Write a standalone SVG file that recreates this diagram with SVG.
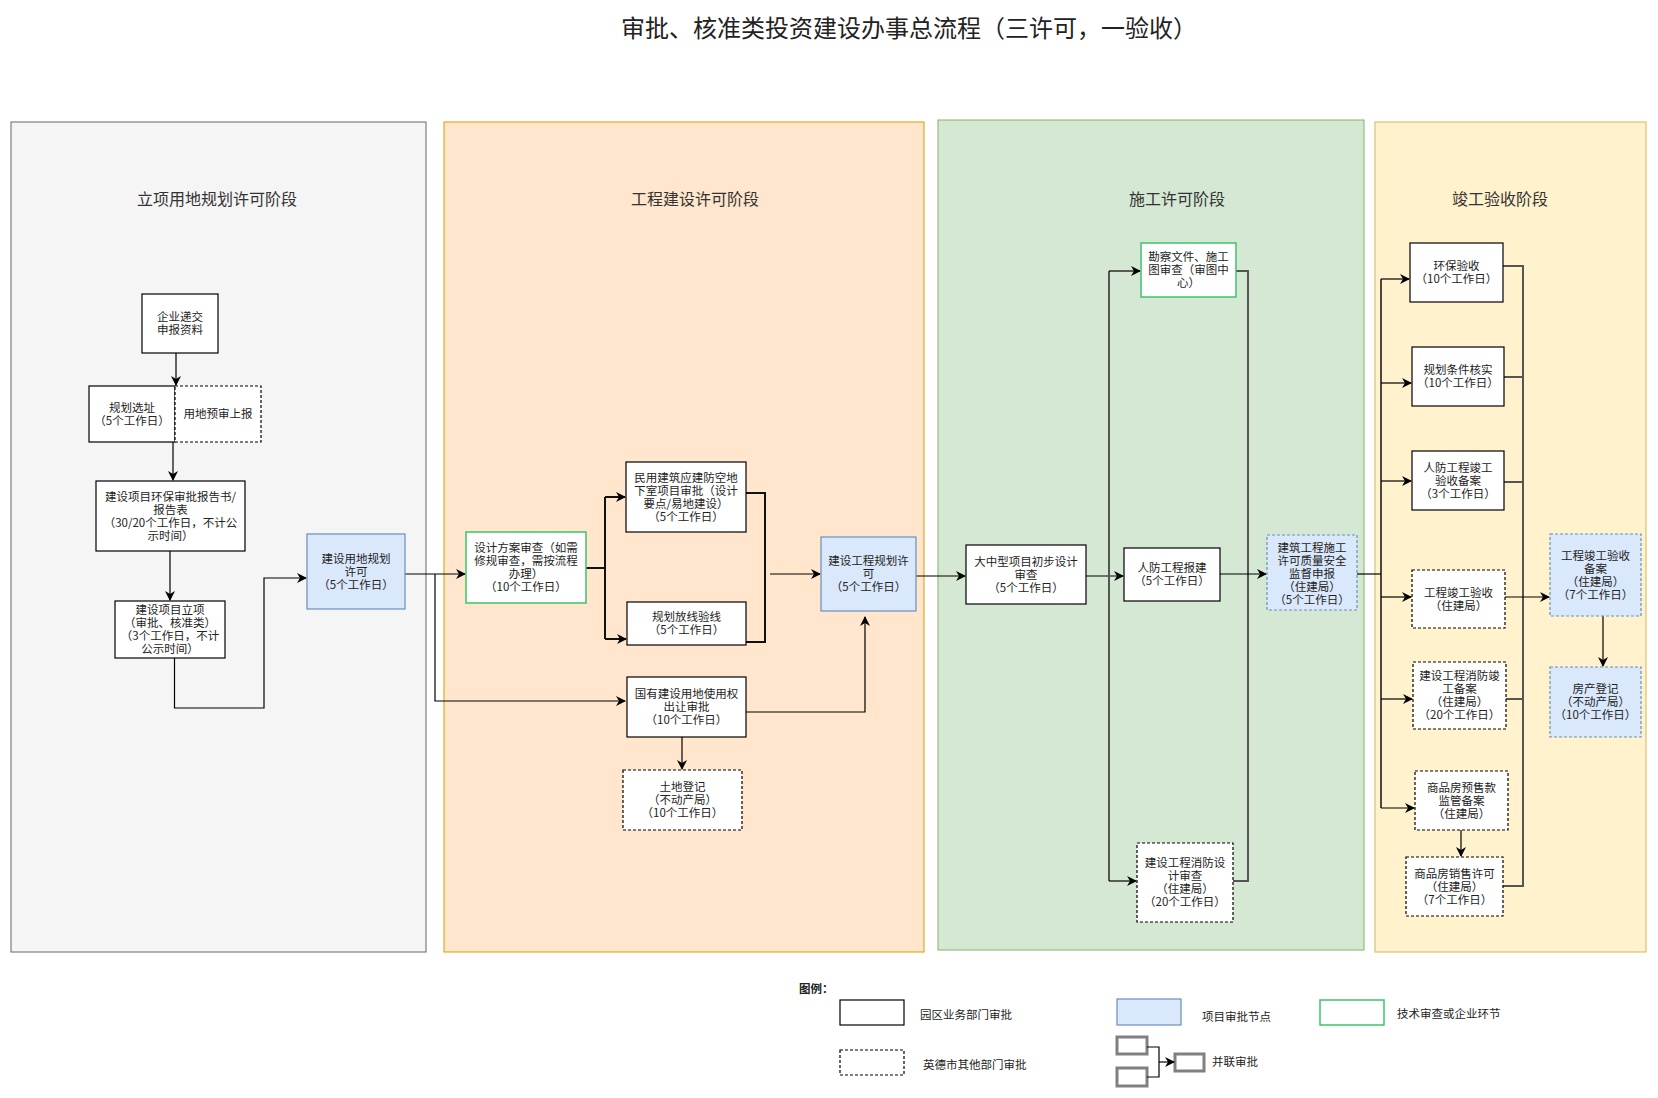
<svg xmlns="http://www.w3.org/2000/svg" width="1658" height="1098" viewBox="0 0 1658 1098">
<defs>
<marker id="a" markerWidth="10" markerHeight="10" refX="9" refY="5" orient="auto" markerUnits="userSpaceOnUse"><path d="M0,0 L10,5 L0,10 L3,5 Z" fill="#000"/></marker>
<style>
text{font-family:"Noto Sans CJK SC","Liberation Sans",sans-serif;fill:#222;}
.t{font-size:11.5px;text-anchor:middle;}
.st{font-size:16px;text-anchor:middle;fill:#333;}
.lg{font-size:11.5px;}
.n{fill:#fff;stroke:#000;stroke-width:1.2;}
.d{fill:#fff;stroke:#000;stroke-width:1.2;stroke-dasharray:3,2;}
.g{fill:#fff;stroke:#3cc36b;stroke-width:1.5;}
.b{fill:#dae8fc;stroke:#6c8ebf;stroke-width:1.2;}
.bd{fill:#dae8fc;stroke:#6c8ebf;stroke-width:1.2;stroke-dasharray:3,2;}
.c{fill:none;stroke:#000;stroke-width:1.2;}
.c2{fill:none;stroke:#111;stroke-width:2;}
.c3{fill:none;stroke:#555;stroke-width:2;}
</style>
</defs>
<rect width="1658" height="1098" fill="#fff"/>
<text x="909" y="37" style="font-size:24px;text-anchor:middle;fill:#222">审批、核准类投资建设办事总流程（三许可，一验收）</text>
<g id="stages">
<rect x="11" y="122" width="415" height="830" fill="#f5f5f5" stroke="#666"/>
<rect x="444" y="122" width="480" height="830" fill="#ffe6cc" stroke="#d79b00"/>
<rect x="938" y="120" width="426" height="830" fill="#d5e8d4" stroke="#82b366"/>
<rect x="1375" y="122" width="271" height="830" fill="#fff2cc" stroke="#d6b656"/>
<text class="st" x="217" y="205">立项用地规划许可阶段</text>
<text class="st" x="695" y="205">工程建设许可阶段</text>
<text class="st" x="1177" y="205">施工许可阶段</text>
<text class="st" x="1500" y="205">竣工验收阶段</text>
</g>
<g id="connectors">
<path class="c" d="M176,353 V385" marker-end="url(#a)"/>
<path class="c" d="M173,442 V480" marker-end="url(#a)"/>
<path class="c" d="M170,551 V600" marker-end="url(#a)"/>
<path class="c" d="M174.5,658 V708 H264 V578 H306" marker-end="url(#a)"/>
<path class="c" d="M405,574 H465" marker-end="url(#a)"/>
<path class="c" d="M435,574 V701 H625" marker-end="url(#a)"/>
<path class="c2" d="M586,568 H605 M605,497 V639" />
<path class="c2" d="M605,497 H625" marker-end="url(#a)"/>
<path class="c2" d="M605,639 H626" marker-end="url(#a)"/>
<path class="c2" d="M746,493 H765 V642 H746"/>
<path class="c" d="M770,574 H820" marker-end="url(#a)"/>
<path class="c" d="M746,712 H865 V617" marker-end="url(#a)"/>
<path class="c" d="M682,737 V769" marker-end="url(#a)"/>
<path class="c" d="M916,576 H965" marker-end="url(#a)"/>
<path class="c" d="M1086,576 H1123" marker-end="url(#a)"/>
<path class="c3" d="M1109,271 V881"/>
<path class="c" d="M1109,271 H1140" marker-end="url(#a)"/>
<path class="c" d="M1109,881 H1136" marker-end="url(#a)"/>
<path class="c3" d="M1236,271 H1248 V881 H1233"/>
<path class="c" d="M1220,574 H1266" marker-end="url(#a)"/>
<path class="c" d="M1357,574 H1381"/>
<path class="c3" d="M1381,279 V808" style="stroke:#111;stroke-width:1.5"/>
<path class="c" d="M1381,279 H1409" marker-end="url(#a)"/>
<path class="c" d="M1381,383 H1411" marker-end="url(#a)"/>
<path class="c" d="M1381,481 H1411" marker-end="url(#a)"/>
<path class="c" d="M1381,597 H1411" marker-end="url(#a)"/>
<path class="c" d="M1381,699 H1412" marker-end="url(#a)"/>
<path class="c" d="M1381,808 H1414" marker-end="url(#a)"/>
<path class="c3" d="M1503,266 H1523 V886 H1503 M1504,377 H1523 M1504,482 H1523 M1506,699 H1523"/>
<path class="c" d="M1505,597 H1549" marker-end="url(#a)"/>
<path class="c" d="M1603,616 V666" marker-end="url(#a)"/>
<path class="c" d="M1461,830 V856" marker-end="url(#a)"/>
</g>
<g id="n1"><rect class="n" x="142" y="294" width="76" height="59"/><text class="t" x="180"><tspan x="180" y="321">企业递交</tspan><tspan x="180" y="334">申报资料</tspan></text></g>
<g id="n2"><rect class="n" x="89" y="386" width="86" height="56"/><text class="t"><tspan x="132" y="411.5">规划选址</tspan><tspan x="132" y="424.5">（5个工作日）</tspan></text></g>
<g id="n3"><rect class="d" x="175" y="386" width="86" height="56"/><text class="t" x="218" y="418">用地预审上报</text></g>
<g id="n4"><rect class="n" x="96" y="481" width="149" height="70"/><text class="t"><tspan x="170.5" y="500.5">建设项目环保审批报告书/</tspan><tspan x="170.5" y="513.5">报告表</tspan><tspan x="170.5" y="526.5">（30/20个工作日，不计公</tspan><tspan x="170.5" y="539.5">示时间）</tspan></text></g>
<g id="n5"><rect class="n" x="115" y="601" width="110" height="57"/><text class="t"><tspan x="170" y="614">建设项目立项</tspan><tspan x="170" y="627">（审批、核准类）</tspan><tspan x="170" y="640">（3个工作日，不计</tspan><tspan x="170" y="653">公示时间）</tspan></text></g>
<g id="n6"><rect class="b" x="307" y="534" width="98" height="75"/><text class="t"><tspan x="356" y="562.5">建设用地规划</tspan><tspan x="356" y="575.5">许可</tspan><tspan x="356" y="588.5">（5个工作日）</tspan></text></g>
<g id="n7"><rect class="g" x="466" y="532" width="120" height="71"/><text class="t"><tspan x="526" y="552">设计方案审查（如需</tspan><tspan x="526" y="565">修规审查，需按流程</tspan><tspan x="526" y="578">办理）</tspan><tspan x="526" y="591">（10个工作日）</tspan></text></g>
<g id="n8"><rect class="n" x="626" y="462" width="120" height="70"/><text class="t"><tspan x="686" y="481.5">民用建筑应建防空地</tspan><tspan x="686" y="494.5">下室项目审批（设计</tspan><tspan x="686" y="507.5">要点/易地建设）</tspan><tspan x="686" y="520.5">（5个工作日）</tspan></text></g>
<g id="n9"><rect class="n" x="627" y="602" width="119" height="43"/><text class="t"><tspan x="686.5" y="621">规划放线验线</tspan><tspan x="686.5" y="634">（5个工作日）</tspan></text></g>
<g id="n10"><rect class="n" x="627" y="677" width="119" height="60"/><text class="t"><tspan x="686.5" y="698">国有建设用地使用权</tspan><tspan x="686.5" y="711">出让审批</tspan><tspan x="686.5" y="724">（10个工作日）</tspan></text></g>
<g id="n11"><rect class="d" x="623" y="770" width="119" height="60"/><text class="t"><tspan x="682.5" y="791">土地登记</tspan><tspan x="682.5" y="804">（不动产局）</tspan><tspan x="682.5" y="817">（10个工作日）</tspan></text></g>
<g id="n12"><rect class="b" x="821" y="537" width="95" height="74"/><text class="t"><tspan x="868.5" y="565">建设工程规划许</tspan><tspan x="868.5" y="578">可</tspan><tspan x="868.5" y="591">（5个工作日）</tspan></text></g>
<g id="n13"><rect class="g" x="1141" y="243" width="95" height="54"/><text class="t"><tspan x="1188.5" y="261">勘察文件、施工</tspan><tspan x="1188.5" y="274">图审查（审图中</tspan><tspan x="1188.5" y="287">心）</tspan></text></g>
<g id="n14"><rect class="n" x="966" y="545" width="120" height="59"/><text class="t"><tspan x="1026" y="565.5">大中型项目初步设计</tspan><tspan x="1026" y="578.5">审查</tspan><tspan x="1026" y="591.5">（5个工作日）</tspan></text></g>
<g id="n15"><rect class="n" x="1124" y="548" width="96" height="53"/><text class="t"><tspan x="1172" y="572">人防工程报建</tspan><tspan x="1172" y="585">（5个工作日）</tspan></text></g>
<g id="n16"><rect class="d" x="1137" y="843" width="96" height="79"/><text class="t"><tspan x="1185" y="867">建设工程消防设</tspan><tspan x="1185" y="880">计审查</tspan><tspan x="1185" y="893">（住建局）</tspan><tspan x="1185" y="906">（20个工作日）</tspan></text></g>
<g id="n17"><rect class="bd" x="1267" y="535" width="90" height="75"/><text class="t"><tspan x="1312" y="552">建筑工程施工</tspan><tspan x="1312" y="565">许可质量安全</tspan><tspan x="1312" y="578">监督申报</tspan><tspan x="1312" y="591">（住建局）</tspan><tspan x="1312" y="604">（5个工作日）</tspan></text></g>
<g id="n18"><rect class="n" x="1410" y="243" width="93" height="59"/><text class="t"><tspan x="1456.5" y="270">环保验收</tspan><tspan x="1456.5" y="283">（10个工作日）</tspan></text></g>
<g id="n19"><rect class="n" x="1412" y="347" width="92" height="59"/><text class="t"><tspan x="1458" y="374">规划条件核实</tspan><tspan x="1458" y="387">（10个工作日）</tspan></text></g>
<g id="n20"><rect class="n" x="1412" y="451" width="92" height="59"/><text class="t"><tspan x="1458" y="471.5">人防工程竣工</tspan><tspan x="1458" y="484.5">验收备案</tspan><tspan x="1458" y="497.5">（3个工作日）</tspan></text></g>
<g id="n21"><rect class="d" x="1412" y="570" width="93" height="58"/><text class="t"><tspan x="1458.5" y="596.5">工程竣工验收</tspan><tspan x="1458.5" y="609.5">（住建局）</tspan></text></g>
<g id="n22"><rect class="d" x="1413" y="662" width="93" height="67"/><text class="t"><tspan x="1459.5" y="680">建设工程消防竣</tspan><tspan x="1459.5" y="693">工备案</tspan><tspan x="1459.5" y="706">（住建局）</tspan><tspan x="1459.5" y="719">（20个工作日）</tspan></text></g>
<g id="n23"><rect class="d" x="1415" y="771" width="93" height="59"/><text class="t"><tspan x="1461.5" y="791.5">商品房预售款</tspan><tspan x="1461.5" y="804.5">监管备案</tspan><tspan x="1461.5" y="817.5">（住建局）</tspan></text></g>
<g id="n24"><rect class="d" x="1406" y="857" width="97" height="59"/><text class="t"><tspan x="1454.5" y="877.5">商品房销售许可</tspan><tspan x="1454.5" y="890.5">（住建局）</tspan><tspan x="1454.5" y="903.5">（7个工作日）</tspan></text></g>
<g id="n25"><rect class="bd" x="1550" y="534" width="91" height="82"/><text class="t"><tspan x="1595.5" y="559.5">工程竣工验收</tspan><tspan x="1595.5" y="572.5">备案</tspan><tspan x="1595.5" y="585.5">（住建局）</tspan><tspan x="1595.5" y="598.5">（7个工作日）</tspan></text></g>
<g id="n26"><rect class="bd" x="1550" y="667" width="91" height="70"/><text class="t"><tspan x="1595.5" y="693">房产登记</tspan><tspan x="1595.5" y="706">（不动产局）</tspan><tspan x="1595.5" y="719">（10个工作日）</tspan></text></g>
<g id="legend">
<text class="lg" x="799" y="993" style="font-weight:bold">图例：</text>
<rect class="n" x="840" y="1000" width="64" height="25"/>
<text class="lg" x="920" y="1019">园区业务部门审批</text>
<rect class="d" x="840" y="1050" width="64" height="25"/>
<text class="lg" x="923" y="1069">英德市其他部门审批</text>
<rect class="b" x="1117" y="999" width="64" height="26"/>
<text class="lg" x="1202" y="1021">项目审批节点</text>
<rect class="g" x="1320" y="1000" width="64" height="25"/>
<text class="lg" x="1397" y="1018">技术审查或企业环节</text>
<rect x="1117" y="1037" width="30" height="17" fill="#fff" stroke="#808080" stroke-width="3"/>
<rect x="1117" y="1068" width="30" height="18" fill="#fff" stroke="#808080" stroke-width="3"/>
<rect x="1175" y="1054" width="29" height="17" fill="#fff" stroke="#808080" stroke-width="3"/>
<path class="c" d="M1147,1047 H1159 V1077 H1147"/>
<path class="c" d="M1159,1062 H1174" marker-end="url(#a)"/>
<text class="lg" x="1212" y="1066">并联审批</text>
</g>
</svg>
